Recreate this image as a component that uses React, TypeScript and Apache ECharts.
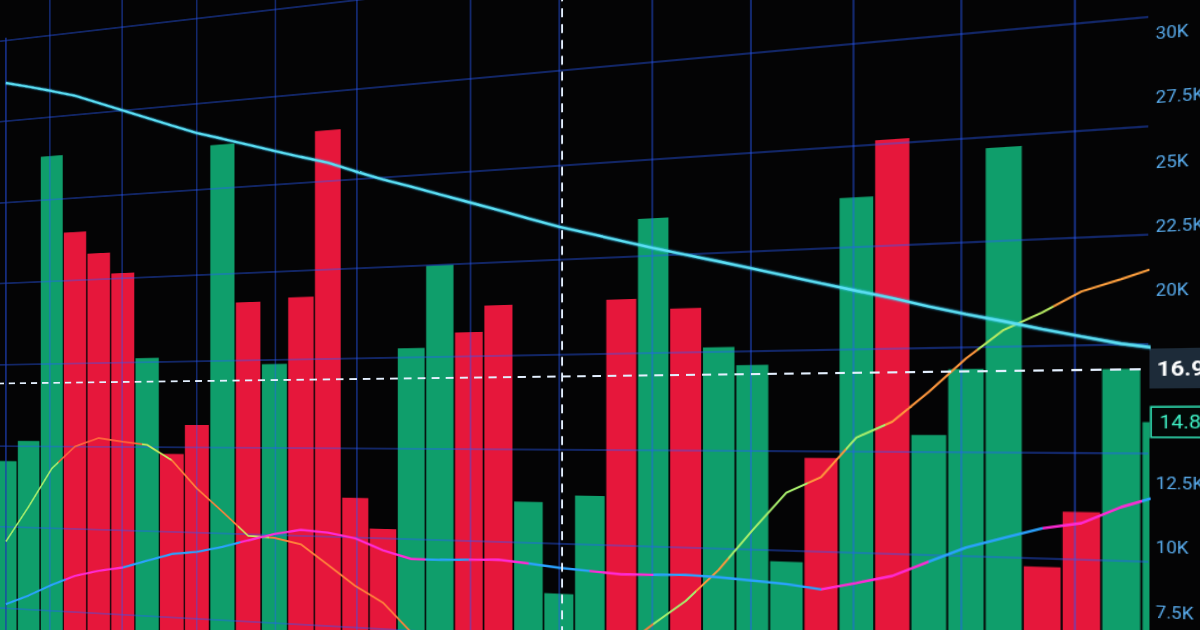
import React, { useEffect, useRef } from "react";
import * as echarts from "echarts";

// ---- data ----
// one entry per candle / period (index order, left to right)
const candleValues = [
  12884, 13935, 28651, 24661, 23520, 22446, 18128, 13323, 14766, 28561,
  20762, 17716, 20913, 28832, 11315, 9885, 18355, 22161, 19034, 20229,
  11289, 7198, 11613, 20322, 23822, 19843, 18124, 17329, 8966, 13381,
  24262, 26580, 14357, 17040, 25958, 9104, 11324, 16960, 14880,
];
const candleDirection = [
  "up", "up", "up", "down", "down", "down", "up", "down", "down", "up",
  "down", "up", "down", "down", "down", "down", "up", "up", "down", "down",
  "up", "up", "up", "down", "up", "down", "up", "up", "up", "down",
  "up", "down", "up", "up", "up", "down", "down", "up", "up",
];
const slowAverage = [
  32664, 32349, 32007, 31647, 31155, 30670, 30178, 29693, 29214, 28832,
  28437, 28041, 27655, 27282, 26780, 26309, 25883, 25439, 25004, 24564,
  24111, 23667, 23289, 22903, 22521, 22170, 21815, 21459, 21091, 20722,
  20362, 20012, 19625, 19270, 18941, 18590, 18266, 17951, 17729,
];
const fastAverage = [
  8668, 10516, 12510, 13669, 14104, 13927, 13767, 13012, 11626, 10516,
  9357, 9308, 9028, 8100, 7141, 6412, 5100, 4400, 3900, 3700,
  3600, 3700, 4100, 4900, 6039, 7114, 8522, 10254, 11893, 12577,
  14242, 14899, 16121, 17467, 18595, 19257, 20047, 20482, 20966,
];
const midAverage = [
  5386, 5906, 6514, 7034, 7345, 7562, 7953, 8335, 8486, 8775,
  9139, 9486, 9725, 9632, 9401, 8877, 8517, 8526, 8575, 8624,
  8504, 8358, 8264, 8171, 8207, 8256, 8202, 8113, 8020, 7856,
  8176, 8526, 9161, 9788, 10223, 10640, 10880, 11546, 12030,
];
const crosshairPeriod = 21.1;
const priceMin = 2500;
const priceMax = 35000;
const priceStep = 2500;
const labelMin = 7500;
const labelMax = 30000;

// colour segments of the two short averages (by period index)
const fastSegments: [number, number, string][] = [
  [-2, 2.3, "#a8ee6c"], [2.3, 5.8, "#ff643a"], [5.8, 7, "#c9e85e"],
  [7, 9.6, "#ff823a"], [9.6, 10.8, "#c9e85e"], [10.8, 24, "#ff823a"],
  [24, 25.3, "#a8ee6c"], [25.3, 26.3, "#ff973c"], [26.3, 28.6, "#a8ee6c"],
  [28.6, 29.7, "#ff973c"], [29.7, 30.8, "#a8ee6c"], [30.8, 33.3, "#ff973c"],
  [33.3, 35.3, "#b6ea62"], [35.3, 41, "#ffa03e"],
];
const midSegments: [number, number, string][] = [
  [-2, 2.6, "#2aa2ff"], [2.6, 5, "#ff2ad6"], [5, 9.7, "#2aa2ff"],
  [9.7, 16.5, "#ff2ad6"], [16.5, 18, "#2aa2ff"], [18, 20, "#ff2ad6"],
  [20, 22, "#2aa2ff"], [22, 24, "#ff2ad6"], [24, 29, "#2aa2ff"],
  [29, 32, "#ff2ad6"], [32, 35, "#2aa2ff"], [35, 37.5, "#ff2ad6"],
  [37.5, 41, "#2aa2ff"],
];

const GREEN = "#0f9e6b";
const RED = "#e6173b";
const BG = "#040405";
const GRID_LINE = "rgba(40,90,255,0.52)";

const pairs = (arr: number[]) => arr.map((v, i) => [i, v]);

const gridAxis = (gridIndex: number, max: number) => ({
  gridIndex, type: "value", min: 0, max, interval: 1, z: 3,
  axisLine: { show: false }, axisTick: { show: false }, axisLabel: { show: false },
  splitLine: { show: true, lineStyle: { color: GRID_LINE, width: 1.6 } },
});
const hiddenAxis = (gridIndex: number) => ({ gridIndex, type: "value", min: 0, max: 1, show: false });

export default function App() {
  const ref = useRef<HTMLDivElement>(null);

  useEffect(() => {
    if (!ref.current) return;
    const chart = echarts.init(ref.current, null, { renderer: "svg" });
    const lastClose = candleValues[candleValues.length - 2];
    const lastPrice = candleValues[candleValues.length - 1];

    chart.setOption({
      animation: false,
      backgroundColor: "transparent",
      grid: [
        { left: 0, right: 77, top: 69.4, bottom: 18.8, outerBoundsMode: "none" },
        { left: 91.1, right: 850.9, top: 0, bottom: 0, outerBoundsMode: "none" },
        { left: 0, right: 77, top: 71.4, bottom: 79.4, outerBoundsMode: "none" },
        { left: 619.4, right: 136.9, top: 0, bottom: 0, outerBoundsMode: "none" },
      ],
      xAxis: [
        { gridIndex: 0, type: "value", min: -0.851, max: 37.667, show: false },
        gridAxis(1, 4),
        hiddenAxis(2),
        gridAxis(3, 6),
      ],
      yAxis: [
        {
          gridIndex: 0, type: "value", position: "right", z: 3,
          min: priceMin, max: priceMax, interval: priceStep,
          axisLine: { show: true, lineStyle: { color: "#1c3cb0", width: 1.6 } },
          axisTick: { show: false },
          splitLine: { show: false },
          axisLabel: {
            color: "#5aaef0", fontFamily: "Roboto", fontSize: 15, margin: 6,
            formatter: (v: number) => (v < labelMin || v > labelMax ? "" : `${v / 1000}K`),
          },
        },
        hiddenAxis(1),
        gridAxis(2, 7),
        hiddenAxis(3),
      ],
      visualMap: [
        {
          type: "piecewise", show: false, seriesIndex: 2, dimension: 0,
          pieces: fastSegments.map(([a, b, c]) => ({ gte: a, lt: b, color: c })),
        },
        {
          type: "piecewise", show: false, seriesIndex: 3, dimension: 0,
          pieces: midSegments.map(([a, b, c]) => ({ gte: a, lt: b, color: c })),
        },
      ],
      graphic: [
        {
          type: "rect", z: 2, silent: true,
          shape: { x: 1264, y: 0, width: 80, height: 820 },
          style: { fill: BG },
        },
      ],
      series: [
        {
          type: "bar",
          xAxisIndex: 0, yAxisIndex: 0,
          barWidth: 31,
          clip: true,
          z: 1,
          data: candleValues.map((v, i) => ({
            value: [i, v],
            itemStyle: { color: candleDirection[i] === "up" ? GREEN : RED },
          })),
        },
        {
          type: "line", xAxisIndex: 0, yAxisIndex: 0, z: 5,
          showSymbol: false, symbol: "none",
          lineStyle: { color: "#5cdff2", width: 2.4, shadowBlur: 2, shadowColor: "#2ec8ff" },
          data: pairs(slowAverage),
          markLine: {
            silent: true,
            symbol: ["none", "none"],
            data: [
              {
                yAxis: lastClose,
                lineStyle: { type: [9, 7], color: "#e4f0ff", width: 2 },
                label: {
                  show: true, position: "end", distance: 1,
                  formatter: `${(lastClose / 1000).toFixed(2)}K`,
                  color: "#ffffff", fontWeight: "bold", fontFamily: "Roboto", fontSize: 19,
                  backgroundColor: "#1d2b39", padding: [8, 40, 7, 6], lineHeight: 20,
                },
              },
              {
                yAxis: lastPrice,
                lineStyle: { type: "solid", color: "rgba(0,0,0,0)", width: 1 },
                label: {
                  show: true, position: "end", distance: 3,
                  formatter: `${(lastPrice / 1000).toFixed(2)}K`,
                  color: "#3ff0c4", fontFamily: "Roboto", fontSize: 17,
                  backgroundColor: "#020806", borderColor: "#2fdcb0", borderWidth: 1.6,
                  padding: [4, 40, 3, 6], lineHeight: 18,
                },
              },
              {
                xAxis: crosshairPeriod,
                lineStyle: { type: [9, 7], color: "#e4f0ff", width: 2 },
                label: { show: false },
              },
            ],
          },
        },
        {
          type: "line", xAxisIndex: 0, yAxisIndex: 0, z: 4,
          showSymbol: false, symbol: "none",
          lineStyle: { width: 2 },
          data: pairs(fastAverage),
        },
        {
          type: "line", xAxisIndex: 0, yAxisIndex: 0, z: 4,
          showSymbol: false, symbol: "none",
          lineStyle: { width: 2.4 },
          data: pairs(midAverage),
        },
      ],
    });

    return () => chart.dispose();
  }, []);

  return (
    <div
      style={{
        position: "fixed", left: 0, top: 0, width: 1200, height: 630,
        overflow: "hidden", background: BG,
        perspective: "1200px", perspectiveOrigin: "600px 425px",
      }}
    >
      <div
        ref={ref}
        style={{
          position: "absolute", left: -160, top: -100, width: 1340, height: 820,
          transformOrigin: "760px 525px", transform: "rotateY(-17deg)",
        }}
      />
    </div>
  );
}
